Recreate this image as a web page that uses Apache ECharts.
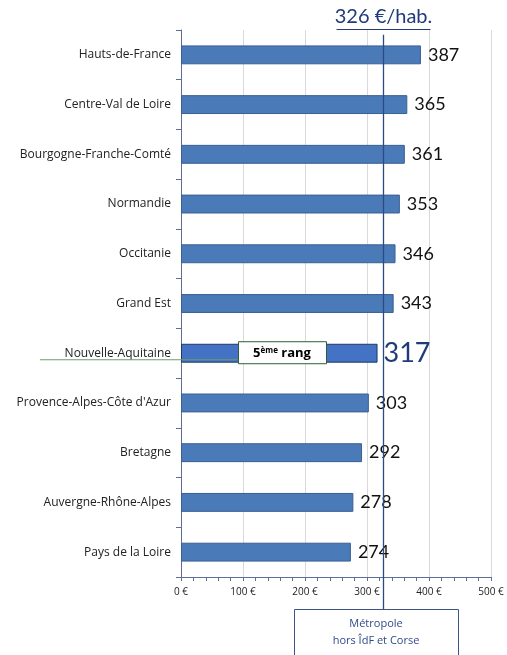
<!DOCTYPE html>
<html>
<head>
<meta charset="utf-8">
<script src="https://cdn.jsdelivr.net/npm/echarts@6/dist/echarts.min.js"></script>
<style>
html,body{margin:0;padding:0;background:#fff;}
#chart{width:507px;height:655px;}
</style>
</head>
<body>
<div id="chart"></div>
<script>
// Dépenses par habitant, régions de métropole (hors Île-de-France et Corse)
const regions = [
  'Hauts-de-France', 'Centre-Val de Loire', 'Bourgogne-Franche-Comté', 'Normandie',
  'Occitanie', 'Grand Est', 'Nouvelle-Aquitaine', "Provence-Alpes-Côte d'Azur",
  'Bretagne', 'Auvergne-Rhône-Alpes', 'Pays de la Loire'
];
const values = [387, 365, 361, 353, 346, 343, 317, 303, 292, 278, 274];
const moyenne = 326;
const highlight = 'Nouvelle-Aquitaine';
const xTicks = [0, 100, 200, 300, 400, 500];

const FONT = 'Lato, "Open Sans", sans-serif';
const CAT_FONT = '"Open Sans", sans-serif';
const NAVY = '#1f3b7a';

const chart = echarts.init(document.getElementById('chart'), null, {renderer: 'canvas'});

const data = values.map((v, i) => {
  const isHl = regions[i] === highlight;
  return {
    value: v,
    itemStyle: isHl
      ? {color: '#4472c4', borderColor: '#1f3864', borderWidth: 1}
      : {color: '#4a7ab8', borderColor: '#3a5f94', borderWidth: 1},
    label: isHl
      ? {fontSize: 27, color: NAVY, distance: 6}
      : {fontSize: 18, color: '#111', distance: 7}
  };
});

chart.setOption({
  animation: false,
  grid: {left: 181, right: 16, top: 30, bottom: 78},
  xAxis: {
    type: 'value', min: xTicks[0], max: xTicks[xTicks.length - 1], interval: 100,
    axisLine: {show: true, lineStyle: {color: '#5d6f94', width: 1}},
    axisTick: {show: true, length: 4, lineStyle: {color: '#5d6f94'}},
    minorTick: {show: true, splitNumber: 5, length: 4, lineStyle: {color: '#5d6f94'}},
    splitLine: {show: true, lineStyle: {color: '#d9d9d9', width: 1}},
    axisLabel: {
      formatter: v => v + ' €', fontFamily: CAT_FONT, fontSize: 10, color: '#222', margin: 10
    }
  },
  yAxis: {
    type: 'category', data: regions, inverse: true,
    axisLine: {show: true, lineStyle: {color: '#5d6f94', width: 1}},
    axisTick: {show: true, length: 5, lineStyle: {color: '#5d6f94'}},
    axisLabel: {fontFamily: CAT_FONT, fontSize: 12, color: '#222', margin: 10}
  },
  series: [{
    type: 'bar', data: data, barWidth: '38%',
    label: {show: true, position: 'right', fontFamily: FONT},
    z: 2
  }]
});

// Moyenne métropole : ligne verticale, valeur en haut, encadré en bas
function overlay() {
  const xLine = Math.round(chart.convertToPixel({xAxisIndex: 0}, moyenne)) + 0.5;
  const hlIdx = regions.indexOf(highlight);
  const yHl = chart.convertToPixel({yAxisIndex: 0}, hlIdx);
  const yTop = chart.convertToPixel({yAxisIndex: 0}, 0) - 20;
  const boxTop = 609;

  chart.setOption({
    graphic: [
      {type: 'line', z: 10, shape: {x1: xLine, y1: yTop, x2: xLine, y2: boxTop},
        style: {stroke: '#2c4a86', lineWidth: 1.3}},
      {type: 'text', z: 10, x: xLine, y: 17,
        style: {text: moyenne + ' €/hab.', fontFamily: FONT, fontSize: 20, fill: NAVY,
          align: 'center', verticalAlign: 'middle'}},
      {type: 'line', z: 10, shape: {x1: xLine - 47, y1: 29.5, x2: xLine + 47, y2: 29.5},
        style: {stroke: NAVY, lineWidth: 1}},
      {type: 'rect', z: 10, shape: {x: 294.5, y: boxTop + 0.5, width: 164, height: 60},
        style: {fill: '#fff', stroke: '#3d5488', lineWidth: 1}},
      {type: 'text', z: 11, x: 376, y: 624,
        style: {text: 'Métropole', fontFamily: CAT_FONT, fontSize: 11, fill: '#2f4b8a',
          align: 'center', verticalAlign: 'middle'}},
      {type: 'text', z: 11, x: 376, y: 641,
        style: {text: 'hors ÎdF et Corse', fontFamily: CAT_FONT, fontSize: 11, fill: '#2f4b8a',
          align: 'center', verticalAlign: 'middle'}},
      // Rang de la Nouvelle-Aquitaine
      {type: 'line', z: 10, shape: {x1: 40, y1: yHl + 6.5, x2: 238, y2: yHl + 6.5},
        style: {stroke: '#6f9a6f', lineWidth: 1.2}},
      {type: 'rect', z: 11, shape: {x: 238.5, y: yHl - 11.5, width: 88, height: 22},
        style: {fill: '#fff', stroke: '#2e5e3a', lineWidth: 1}},
      {type: 'text', z: 12, x: 282, y: yHl,
        style: {
          text: '{n|5}{s|ème}{r| rang}', align: 'center', verticalAlign: 'middle',
          rich: {
            n: {fontFamily: CAT_FONT, fontSize: 13, fontWeight: 'bold', color: NAVY},
            s: {fontFamily: CAT_FONT, fontSize: 8, fontWeight: 'bold', color: NAVY, verticalAlign: 'top', padding: [0, 0, 6, 0]},
            r: {fontFamily: CAT_FONT, fontSize: 13, fontWeight: 'bold', color: NAVY}
          }
        }}
    ]
  });
}
overlay();
</script>
</body>
</html>
